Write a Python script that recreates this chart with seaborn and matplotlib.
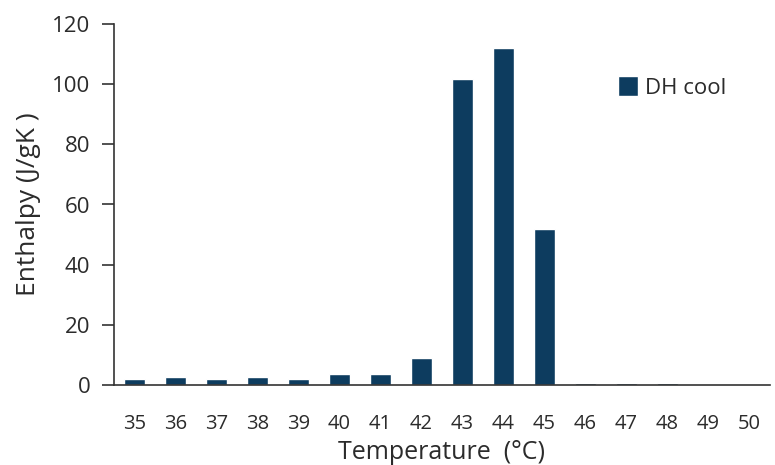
import matplotlib
matplotlib.use("Agg")
import matplotlib.pyplot as plt
import seaborn as sns
import pandas as pd
import numpy as np

temps = ["35", "36", "37", "38", "39", "40", "41", "42", "43", "44", "45", "46", "47", "48", "49", "50"]
dh_cool = [2.0, 2.5, 2.0, 2.5, 2.0, 3.6, 3.6, 9.0, 101.8, 112.0, 52.0, 0.5, 0.5, 0.5, 0.0, 0.0]
series_name = "DH cool"
y_ticks = [0, 20, 40, 60, 80, 100, 120]

sns.set_theme(style="white")
plt.rcParams['font.family'] = ['Open Sans', 'DejaVu Sans']

df = pd.DataFrame({"Temperature": temps, "Enthalpy": dh_cool, "series": series_name})

fig = plt.figure(figsize=(7.75, 4.65), dpi=100)
ax = fig.add_axes([114/775, 1-385/465, (770-114)/775, (385-24)/465])
color = "#0d3c5f"
text_color = "#2b2b2b"
sns.barplot(data=df, x="Temperature", y="Enthalpy", hue="series", palette=[color],
            saturation=1, width=0.52, ax=ax, legend=True)

ax.set_ylim(0, 120)
ax.set_xlim(-0.5, len(temps) - 0.5)
ax.set_yticks(y_ticks)
ax.set_yticklabels([str(v) for v in y_ticks], fontsize=16, color=text_color)
ax.set_xticks(range(len(temps)))
ax.set_xticklabels(temps, fontsize=14.5, color=text_color)
ax.set_xticks(np.arange(-0.5, len(temps), 1.0), minor=True)
ax.tick_params(axis="x", which="major", length=0, pad=21)
ax.tick_params(axis="x", which="minor", length=9, width=1.2, color="#333333", direction="out")
ax.tick_params(axis="y", which="major", length=9, width=1.2, color="#333333", direction="out", left=True, pad=8)

for s in ["top", "right"]:
    ax.spines[s].set_visible(False)
for s in ["left", "bottom"]:
    ax.spines[s].set_color("#333333")
    ax.spines[s].set_linewidth(1.2)

ax.set_xlabel("Temperature  (°C)", fontsize=18, color=text_color, labelpad=4)
ax.set_ylabel("Enthalpy (J/gK )", fontsize=19, color=text_color, labelpad=8)

leg = ax.legend(loc="upper left", bbox_to_anchor=(0.755, 0.88), frameon=False,
                fontsize=16, handlelength=0.9, handleheight=1.0, handletextpad=0.3,
                borderaxespad=0)
for t in leg.get_texts():
    t.set_color(text_color)

fig.savefig("out.png", dpi=100)
